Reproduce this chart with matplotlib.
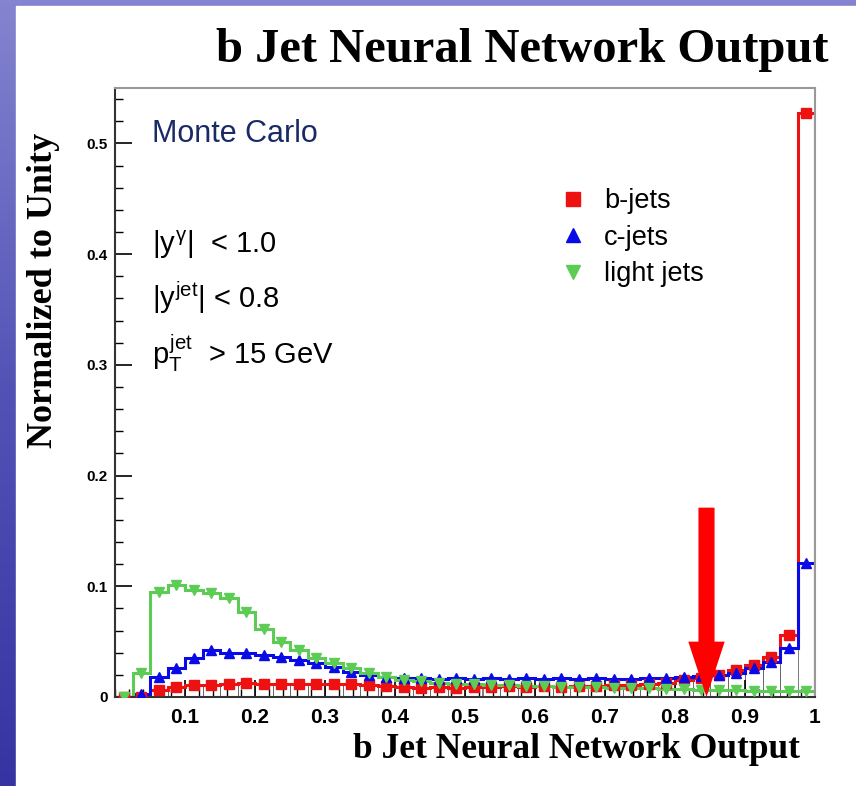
import numpy as np
import matplotlib
matplotlib.use("Agg")
import matplotlib.pyplot as plt
from matplotlib.patches import Rectangle, FancyArrow

plt.rcParams["mathtext.fontset"] = "custom"
plt.rcParams["mathtext.rm"] = "Liberation Sans"
plt.rcParams["mathtext.it"] = "Liberation Sans"

# 40 bins of width 0.025 between 0 and 1
bin_edges = np.linspace(0.0, 1.0, 41)

b_jets = [0.0, 0.0, 0.006, 0.009, 0.011, 0.011, 0.012, 0.013, 0.012, 0.012,
          0.012, 0.012, 0.012, 0.012, 0.011, 0.010, 0.009, 0.008, 0.009, 0.008,
          0.009, 0.009, 0.010, 0.009, 0.010, 0.009, 0.010, 0.010, 0.011, 0.011,
          0.012, 0.013, 0.015, 0.017, 0.020, 0.0245, 0.029, 0.036, 0.056, 0.527]
c_jets = [0.0, 0.003, 0.018, 0.026, 0.035, 0.042, 0.040, 0.040, 0.038, 0.036,
          0.033, 0.031, 0.027, 0.023, 0.020, 0.018, 0.017, 0.017, 0.016, 0.017,
          0.016, 0.017, 0.016, 0.017, 0.016, 0.017, 0.016, 0.017, 0.016, 0.016,
          0.017, 0.017, 0.018, 0.019, 0.020, 0.0215, 0.026, 0.032, 0.044, 0.121]
light_jets = [0.0, 0.022, 0.095, 0.101, 0.097, 0.094, 0.089, 0.077, 0.061, 0.050,
              0.0425, 0.035, 0.031, 0.026, 0.022, 0.018, 0.015, 0.014, 0.013, 0.012,
              0.012, 0.011, 0.011, 0.010, 0.010, 0.009, 0.009, 0.009, 0.008, 0.008,
              0.008, 0.007, 0.007, 0.006, 0.006, 0.006, 0.005, 0.005, 0.005, 0.005]

series = [("b-jets", b_jets, "#ee1111", "s"),
          ("c-jets", c_jets, "#0a0ae6", "^"),
          ("light jets", light_jets, "#5ccc55", "v")]

cut_value = 0.845

fig = plt.figure(figsize=(8.56, 7.86), dpi=100)

# slide background: blue strip on left and top, white panel
bg = fig.add_axes([0, 0, 1, 1], zorder=-10)
grad = np.linspace(0, 1, 256).reshape(-1, 1)
bg.imshow(grad, aspect="auto", cmap=matplotlib.colors.LinearSegmentedColormap.from_list(
    "slide", ["#8484d0", "#5252b6", "#3634a2"]), extent=[0, 1, 0, 1])
bg.add_patch(Rectangle((16 / 856, 0), 1, 1 - 6 / 786, color="white"))
bg.set_xlim(0, 1)
bg.set_ylim(0, 1)
bg.axis("off")

ax = fig.add_axes([115 / 856, 89 / 786, 700 / 856, 609 / 786])
centers = 0.5 * (bin_edges[:-1] + bin_edges[1:])
width = bin_edges[1] - bin_edges[0]

# thin bin outlines under the b-jet histogram
ax.bar(centers[:-1], b_jets[:-1], width=width, fill=False, edgecolor="#666666",
       linewidth=0.6, zorder=1)

for label, vals, color, marker in series:
    vals = np.array(vals)
    ax.stairs(vals, bin_edges, color=color, linewidth=2.2, zorder=2)
    ax.plot(centers, vals, linestyle="none", marker=marker, color=color,
            markersize=7.5, zorder=3, label=label)

ax.add_patch(FancyArrow(cut_value, 0.171, 0, -0.171, width=0.023,
                        head_width=0.052, head_length=0.05,
                        length_includes_head=True, color="#ff0000",
                        linewidth=0, zorder=5))

ax.set_xlim(0, 1)
ax.set_ylim(0, 0.55)
ax.set_xticks(np.arange(0.1, 1.01, 0.1))
ax.set_xticklabels(["0.1", "0.2", "0.3", "0.4", "0.5", "0.6", "0.7", "0.8", "0.9", "1"])
ax.set_yticks(np.arange(0, 0.51, 0.1))
ax.set_yticklabels(["0", "0.1", "0.2", "0.3", "0.4", "0.5"])
ax.set_xticks(np.arange(0, 1.001, 0.02), minor=True)
ax.set_yticks(np.arange(0, 0.55, 0.02), minor=True)
ax.tick_params(axis="both", which="major", direction="in", length=12, width=1.2,
               top=False, right=False)
ax.tick_params(axis="both", which="minor", direction="in", length=6, width=1,
               top=False, right=False)
ax.tick_params(axis="x", labelsize=15, pad=8)
ax.tick_params(axis="y", labelsize=11, pad=5)
for t in ax.get_xticklabels() + ax.get_yticklabels():
    t.set_fontweight("bold")
    t.set_family("Liberation Sans")
for side in ["left", "bottom"]:
    ax.spines[side].set_color("#333333")
    ax.spines[side].set_linewidth(1.5)
for side in ["top", "right"]:
    ax.spines[side].set_color("#999999")
    ax.spines[side].set_linewidth(1.5)

txt = dict(family="Liberation Sans", fontsize=21, transform=ax.transAxes)
ax.text(0.053, 0.925, "Monte Carlo", color="#1a2a66", va="center", fontsize=22,
        family="Liberation Sans", transform=ax.transAxes)
ax.text(0.053, 0.743, r"$|y^{\gamma}|$  < 1.0", va="center", **txt)
ax.text(0.053, 0.656, r"$|y^{\rm jet}|$ < 0.8", va="center", **txt)
ax.text(0.053, 0.564, r"$p_{\rm T}^{\rm jet}$  > 15 GeV", va="center", **txt)

ax.legend(loc="upper left", bbox_to_anchor=(0.59, 0.875), frameon=False,
          prop={"family": "Liberation Sans", "size": 19.5}, handletextpad=0.4,
          labelspacing=0.38, markerscale=1.3, handlelength=1.5)

fig.text(828 / 856, 1 - 50 / 786, "b Jet Neural Network Output", ha="right",
         va="center", family="Liberation Serif", fontweight="bold", fontsize=35)
fig.text(800 / 856, 1 - 750 / 786, "b Jet Neural Network Output", ha="right",
         va="center", family="Liberation Serif", fontweight="bold", fontsize=25.5)
fig.text(44 / 856, 1 - 290 / 786, "Normalized to Unity", rotation=90, ha="center",
         va="center", family="Liberation Serif", fontweight="bold", fontsize=26)

fig.savefig("out.png", dpi=100)
